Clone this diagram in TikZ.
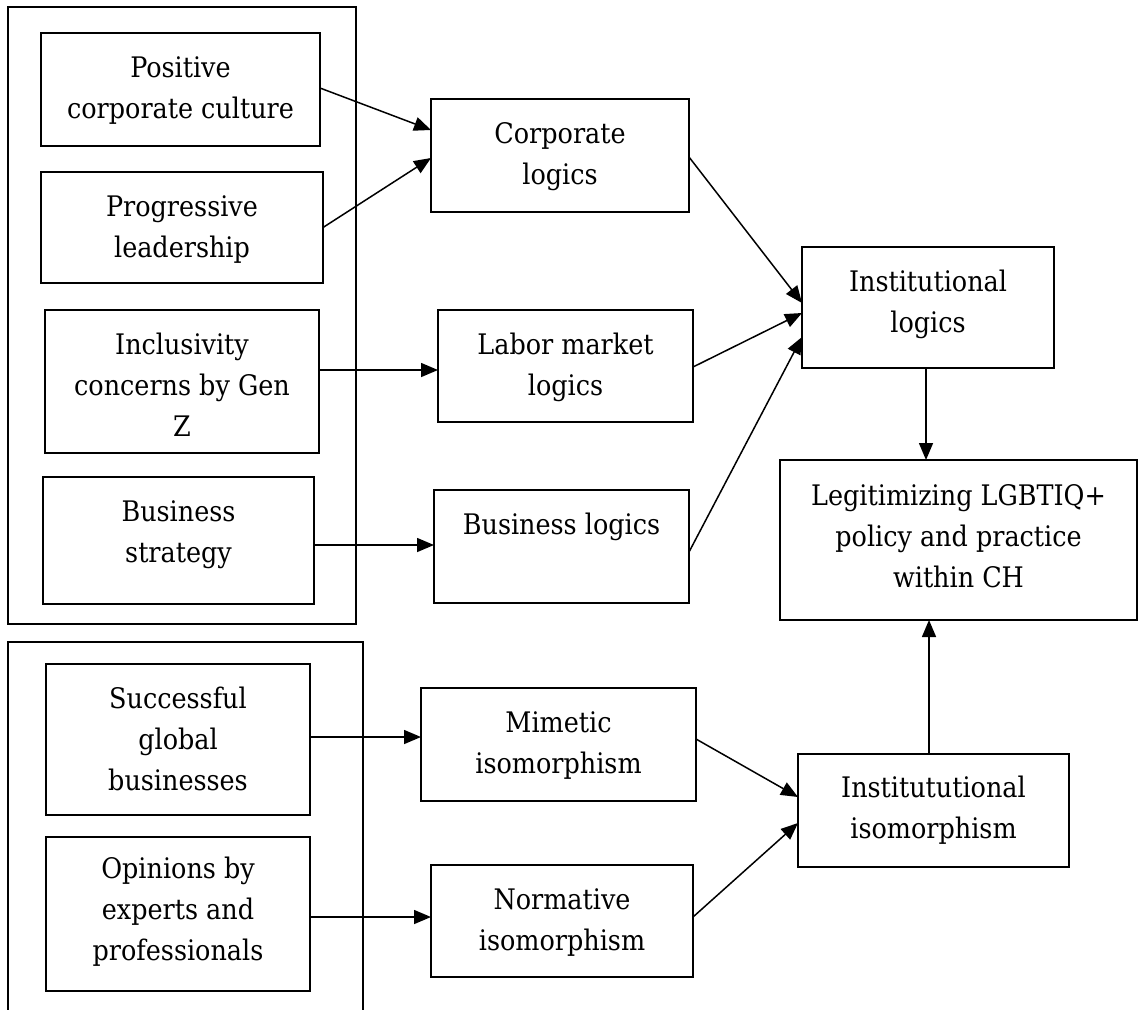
\documentclass[tikz,border=0pt]{standalone}
\usepackage{fontspec}
\setmainfont{DejaVu Serif Condensed}
\usetikzlibrary{arrows.meta}
\newcommand\firstln{\rule{0pt}{26pt}}
\begin{document}
\begin{tikzpicture}[x=1pt,y=-1pt,
  box/.style={draw, line width=1.7pt, inner sep=0pt, outer sep=0pt},
  txt/.style={anchor=north, align=center, inner sep=0pt, yshift=-18pt,
    font=\fontsize{28.3}{41}\selectfont},
  arr/.style={line width=1.5pt, -{Triangle[length=17pt,width=14pt]}},
  grp/.style={draw, line width=1.7pt}]
\useasboundingbox[fill=white] (0,0) rectangle (1139,1009);

% group frames
\node[grp, minimum width=348pt, minimum height=617pt] (g1) at (182,315.5) {};
\coordinate (g2a) at (8,1012);
\coordinate (g2b) at (8,642);
\coordinate (g2c) at (363,642);
\coordinate (g2d) at (363,1012);
\draw[line width=1.7pt] (g2a) -- (g2b) -- (g2c) -- (g2d);

% driver boxes
\node[box, minimum width=279pt, minimum height=113pt,
  label={[txt]north:\firstln Positive\\corporate culture}] (pcc) at (180.5,89.5) {};
\node[box, minimum width=282pt, minimum height=111pt,
  label={[txt]north:\firstln Progressive\\leadership}] (pl) at (182,227.5) {};
\node[box, minimum width=274pt, minimum height=143pt,
  label={[txt]north:\firstln Inclusivity\\concerns by Gen\\Z}] (igz) at (182,381.5) {};
\node[box, minimum width=271pt, minimum height=127pt,
  label={[txt]north:\firstln Business\\strategy}] (bs) at (178.5,540.5) {};
\node[box, minimum width=264pt, minimum height=151pt,
  label={[txt]north:\firstln Successful\\global\\businesses}] (sgb) at (178,739.5) {};
\node[box, minimum width=264pt, minimum height=154pt,
  label={[txt,yshift=3pt]north:\firstln Opinions by\\experts and\\professionals}] (oep) at (178,914) {};

% logics and isomorphism boxes
\node[box, minimum width=258pt, minimum height=113pt,
  label={[txt]north:\firstln Corporate\\logics}] (cl) at (560,155.5) {};
\node[box, minimum width=255pt, minimum height=112pt,
  label={[txt]north:\firstln Labor market\\logics}] (lml) at (565.5,366) {};
\node[box, minimum width=255pt, minimum height=113pt,
  label={[txt]north:\firstln Business logics}] (bl) at (561.5,546.5) {};
\node[box, minimum width=275pt, minimum height=113pt,
  label={[txt]north:\firstln Mimetic\\isomorphism}] (mi) at (558.5,744.5) {};
\node[box, minimum width=262pt, minimum height=112pt,
  label={[txt]north:\firstln Normative\\isomorphism}] (ni) at (562,921) {};

% institutional boxes and outcome
\node[box, minimum width=252pt, minimum height=121pt,
  label={[txt]north:\firstln Institutional\\logics}] (il) at (928,307.5) {};
\node[box, minimum width=357pt, minimum height=160pt,
  label={[txt,yshift=-1pt]north:\firstln Legitimizing LGBTIQ+\\policy and practice\\within CH}] (leg) at (958.5,540) {};
\node[box, minimum width=271pt, minimum height=113pt,
  label={[txt,yshift=1pt]north:\firstln Institututional\\isomorphism}] (ii) at (933.5,810.5) {};

% connectors
\draw[arr] ([yshift=1.5pt]pcc.east) -- ([yshift=25.5pt]cl.west);
\draw[arr] (pl.east) -- ([yshift=-2.5pt]cl.west);
\draw[arr] ([yshift=11.5pt]igz.east) -- ([yshift=11.5pt]igz.east -| lml.west);
\draw[arr] ([yshift=-4.5pt]bs.east) -- ([yshift=-4.5pt]bs.east -| bl.west);
\draw[arr] ([yshift=-1.5pt]cl.east) -- ([yshift=4.5pt]il.west);
\draw[arr] ([yshift=-1pt]lml.east) -- ([yshift=-5.5pt]il.west);
\draw[arr] ([yshift=-5.5pt]bl.east) -- ([yshift=-29.5pt]il.west);
\draw[arr] ([xshift=-2pt]il.south) -- ([xshift=-2pt]il.south |- leg.north);
\draw[arr] ([yshift=2.5pt]sgb.east) -- ([yshift=2.5pt]sgb.east -| mi.west);
\draw[arr] ([yshift=-3pt]oep.east) -- ([yshift=-3pt]oep.east -| ni.west);
\draw[arr] ([yshift=5.5pt]mi.east) -- ([yshift=13.5pt]ii.west);
\draw[arr] ([yshift=4pt]ni.east) -- ([yshift=-12.5pt]ii.west);
\draw[arr] ([xshift=-4.5pt]ii.north) -- ([xshift=-4.5pt]ii.north |- leg.south);
\end{tikzpicture}
\end{document}
